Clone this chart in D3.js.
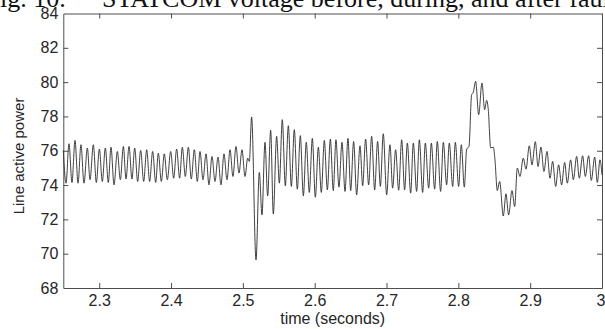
<!DOCTYPE html>
<html>
<head>
<meta charset="utf-8">
<script src="https://cdn.jsdelivr.net/npm/d3@7"></script>
<style>
  body { margin: 0; background: #fff; }
  svg { display: block; }
</style>
</head>
<body>
<div id="chart"></div>
<script>
// Line active power during the fault (peaks and troughs of the ~120 Hz swing)
const timeSec = [
  2.2500, 2.2538, 2.2579, 2.2621, 2.2663, 2.2705, 2.2746, 2.2788, 2.2835, 2.2872,
  2.2918, 2.2960, 2.3002, 2.3043, 2.3085, 2.3127, 2.3164, 2.3206, 2.3252, 2.3294,
  2.3336, 2.3373, 2.3415, 2.3456, 2.3494, 2.3535, 2.3577, 2.3619, 2.3661, 2.3702,
  2.3744, 2.3786, 2.3823, 2.3865, 2.3906, 2.3948, 2.3995, 2.4037, 2.4078, 2.4120,
  2.4157, 2.4199, 2.4241, 2.4282, 2.4324, 2.4366, 2.4403, 2.4445, 2.4487, 2.4528,
  2.4570, 2.4612, 2.4654, 2.4695, 2.4737, 2.4779, 2.4821, 2.4862, 2.4904, 2.4946,
  2.4988, 2.5030, 2.5067, 2.5090, 2.5122, 2.5183, 2.5229, 2.5266, 2.5308, 2.5345,
  2.5387, 2.5424, 2.5470, 2.5508, 2.5549, 2.5591, 2.5633, 2.5675, 2.5716, 2.5758,
  2.5800, 2.5842, 2.5883, 2.5925, 2.5967, 2.6009, 2.6051, 2.6092, 2.6134, 2.6176,
  2.6218, 2.6259, 2.6296, 2.6338, 2.6380, 2.6422, 2.6463, 2.6501, 2.6542, 2.6584,
  2.6631, 2.6668, 2.6709, 2.6751, 2.6793, 2.6835, 2.6876, 2.6914, 2.6955, 2.7002,
  2.7048, 2.7085, 2.7127, 2.7169, 2.7211, 2.7252, 2.7290, 2.7336, 2.7373, 2.7419,
  2.7457, 2.7503, 2.7540, 2.7587, 2.7624, 2.7670, 2.7707, 2.7753, 2.7791, 2.7837,
  2.7874, 2.7921, 2.7958, 2.8004, 2.8041, 2.8083, 2.8116, 2.8148, 2.8185, 2.8208,
  2.8241, 2.8283, 2.8329, 2.8366, 2.8394, 2.8417, 2.8450, 2.8487, 2.8510, 2.8542,
  2.8575, 2.8626, 2.8663, 2.8700, 2.8747, 2.8784, 2.8821, 2.8858, 2.8904, 2.8942,
  2.8988, 2.9025, 2.9072, 2.9109, 2.9150, 2.9192, 2.9234, 2.9276, 2.9313, 2.9355,
  2.9396, 2.9438, 2.9480, 2.9517, 2.9563, 2.9601, 2.9647, 2.9684, 2.9730, 2.9768,
  2.9814, 2.9851, 2.9898, 2.9935, 2.9972, 3.0000
];
const linePower = [
  76.02, 74.11, 76.41, 74.15, 76.60, 74.11, 76.35, 74.11, 76.16, 74.31,
  76.35, 74.15, 76.10, 74.21, 76.16, 74.15, 76.21, 74.01, 75.96, 74.31,
  76.25, 74.35, 76.25, 74.35, 76.16, 74.21, 76.02, 74.21, 76.06, 74.21,
  75.96, 74.15, 75.86, 74.21, 75.82, 74.31, 75.96, 74.40, 76.10, 74.40,
  76.21, 74.50, 76.21, 74.35, 76.06, 74.21, 75.96, 74.31, 75.82, 74.01,
  75.67, 74.21, 75.63, 74.01, 75.82, 74.31, 76.06, 74.50, 76.25, 74.70,
  76.06, 74.50, 75.57, 75.38, 77.97, 69.64, 74.73, 72.26, 76.49, 73.37,
  77.19, 72.32, 76.84, 74.11, 77.81, 73.96, 77.46, 73.92, 77.23, 73.76,
  76.88, 73.37, 76.49, 73.57, 76.72, 73.29, 76.21, 73.57, 76.60, 73.72,
  76.68, 73.68, 76.64, 73.88, 76.49, 73.63, 76.72, 73.68, 76.54, 73.43,
  76.29, 73.96, 76.68, 74.01, 76.84, 73.72, 76.54, 73.92, 76.99, 73.43,
  76.35, 73.82, 76.06, 73.70, 76.64, 73.72, 76.45, 73.53, 76.45, 73.63,
  76.64, 73.57, 76.45, 73.82, 76.45, 73.76, 76.54, 73.63, 76.49, 74.01,
  76.45, 73.92, 76.49, 73.92, 76.35, 73.88, 76.10, 76.25, 79.27, 79.41,
  80.05, 78.10, 79.95, 78.39, 78.94, 78.39, 76.16, 76.21, 75.47, 73.68,
  74.21, 72.20, 73.49, 72.26, 73.68, 72.75, 74.99, 74.50, 75.57, 74.93,
  76.29, 75.18, 76.53, 75.08, 76.21, 74.79, 75.96, 74.40, 75.38, 73.92,
  75.18, 74.01, 75.32, 74.11, 75.47, 74.31, 75.67, 74.40, 75.71, 74.50,
  75.71, 74.27, 75.63, 74.15, 75.47, 74.60
];

const xTicks = [2.3, 2.4, 2.5, 2.6, 2.7, 2.8, 2.9, 3];
const yTicks = [68, 70, 72, 74, 76, 78, 80, 82, 84];
const xLabel = "time (seconds)";
const yLabel = "Line active power";
const captionLead = "Fig. 10.";
const captionText = "STATCOM voltage before, during, and after fault";

const w = 605, h = 329;
const margin = { top: 13.5, right: 3, bottom: 41, left: 63.3 };
const FONT = "'Liberation Sans', Arial, Helvetica, sans-serif";
const INK = "#262626";

const svg = d3.select("#chart").append("svg")
  .attr("width", w)
  .attr("height", h)
  .attr("viewBox", `0 0 ${w} ${h}`);

// caption of the paper figure, cut off by the crop at the top
svg.append("text")
  .attr("x", -14.5).attr("y", 7)
  .style("font-family", "'Liberation Serif', 'Times New Roman', serif")
  .style("font-size", "26px")
  .attr("fill", "#111")
  .text(captionLead);
svg.append("text")
  .attr("x", 102).attr("y", 7)
  .style("font-family", "'Liberation Serif', 'Times New Roman', serif")
  .style("font-size", "26px")
  .attr("fill", "#111")
  .text(captionText);

const x = d3.scaleLinear()
  .domain([2.25, 3])
  .range([margin.left, w - margin.right]);
const y = d3.scaleLinear()
  .domain([68, 84])
  .range([h - margin.bottom, margin.top]);

const fmtX = (d) => (d === 3 ? "3" : d3.format(".1f")(d));

// axes: MATLAB-style box with inward ticks on all four sides
const gx = svg.append("g")
  .attr("transform", `translate(0,${h - margin.bottom})`)
  .call(d3.axisBottom(x).tickValues(xTicks).tickFormat(fmtX)
    .tickSizeInner(-5).tickSizeOuter(0).tickPadding(7));
const gxTop = svg.append("g")
  .attr("transform", `translate(0,${margin.top})`)
  .call(d3.axisTop(x).tickValues(xTicks).tickFormat("")
    .tickSizeInner(-5).tickSizeOuter(0));
const gy = svg.append("g")
  .attr("transform", `translate(${margin.left},0)`)
  .call(d3.axisLeft(y).tickValues(yTicks).tickFormat(d3.format("d"))
    .tickSizeInner(-5).tickSizeOuter(0).tickPadding(5));
const gyRight = svg.append("g")
  .attr("transform", `translate(${w - margin.right},0)`)
  .call(d3.axisRight(y).tickValues(yTicks).tickFormat("")
    .tickSizeInner(-5).tickSizeOuter(0));

for (const g of [gx, gxTop, gy, gyRight]) {
  g.selectAll("path.domain").attr("stroke", "#4d4d4d").attr("stroke-width", 1);
  g.selectAll(".tick line").attr("stroke", "#4d4d4d");
  g.selectAll(".tick text")
    .style("font-family", FONT)
    .style("font-size", "16px")
    .attr("fill", INK);
}
// the last x label sits at the window edge; nudge it inside like the original
gx.selectAll(".tick text").filter((d) => d === 3).attr("dx", "-1.5");
// hide the inner ticks sitting on the box corners
gyRight.selectAll(".tick").filter((d) => d === 68 || d === 84).select("line").remove();
gy.selectAll(".tick").filter((d) => d === 68 || d === 84).select("line").remove();

svg.append("text")
  .attr("x", (margin.left + w - margin.right) / 2)
  .attr("y", 324)
  .attr("text-anchor", "middle")
  .style("font-family", FONT)
  .style("font-size", "16px")
  .attr("fill", INK)
  .text(xLabel);

svg.append("text")
  .attr("transform", `translate(24,156) rotate(-90)`)
  .attr("text-anchor", "middle")
  .style("font-family", FONT)
  .style("font-size", "15px")
  .attr("fill", INK)
  .text(yLabel);

const series = timeSec.map((t, i) => ({ t, p: linePower[i] }));

const line = d3.line()
  .x((d) => x(d.t))
  .y((d) => y(d.p))
  .curve(d3.curveMonotoneX);

svg.append("path")
  .datum(series)
  .attr("fill", "none")
  .attr("stroke", "#2a2a2a")
  .attr("stroke-width", 0.9)
  .attr("stroke-linejoin", "round")
  .attr("d", line);
</script>
</body>
</html>
